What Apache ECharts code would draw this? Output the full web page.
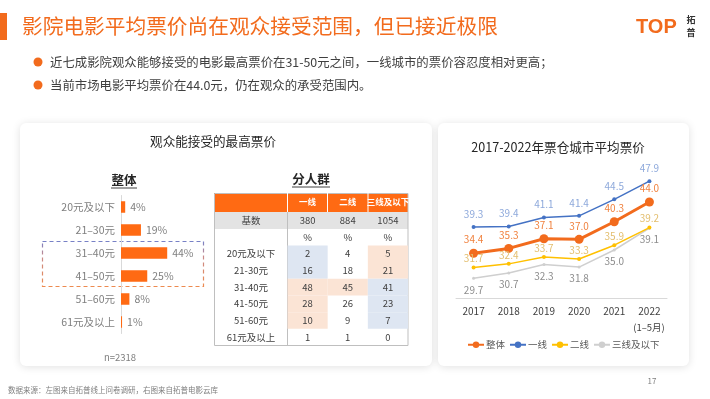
<!DOCTYPE html>
<html>
<head>
<meta charset="utf-8">
<script src="https://cdn.jsdelivr.net/npm/echarts@6/dist/echarts.min.js"></script>
<style>
  html, body { margin: 0; padding: 0; background: #fff; }
  #main { width: 710px; height: 399px; }
</style>
</head>
<body>
<div id="main"></div>
<script>
// 左图：整体可接受最高票价
const barBands = ['20元及以下', '21–30元', '31–40元', '41–50元', '51–60元', '61元及以上']
const overallShare = [4, 19, 44, 25, 8, 1]

// 分人群表格
const tableRows = ['基数', '', '20元及以下', '21-30元', '31-40元', '41-50元', '51-60元', '61元及以上']
const tiers = ['一线', '二线', '三线及以下']
const tierBase = [380, 884, 1054]
const tier1Share = [2, 16, 48, 28, 10, 1]
const tier2Share = [4, 18, 45, 26, 9, 1]
const tier3Share = [5, 21, 41, 23, 7, 0]

// 右图：票仓城市平均票价
const years = ['2017', '2018', '2019', '2020', '2021', '2022']
const priceAll = [34.4, 35.3, 37.1, 37.0, 40.3, 44.0]
const priceTier1 = [39.3, 39.4, 41.1, 41.4, 44.5, 47.9]
const priceTier2 = [31.7, 32.4, 33.7, 33.3, 35.9, 39.2]
const priceTier3 = [29.7, 30.7, 32.3, 31.8, 35.0, 39.1]

const ORANGE = '#F26B1D'
const FONT = '"Noto Sans CJK SC", "Noto Sans", sans-serif'
// 表格底色：b 蓝, o 橙
const shade = [
  ['b', 'b', 'o', 'o', 'o', ''],
  ['', '', 'o', '', '', ''],
  ['o', 'o', 'b', 'b', 'b', ''],
]
const shadeColor = { b: '#DEE6F2', o: '#FBE4D5', '': 'transparent' }

// 组装表格单元
const tierShare = [tier1Share, tier2Share, tier3Share]
const cells = []
tiers.forEach((t, c) => {
  cells.push({ value: [c, 0], text: String(tierBase[c]), bg: 'transparent' })
  cells.push({ value: [c, 1], text: '%', bg: 'transparent' })
  tierShare[c].forEach((v, i) => {
    cells.push({ value: [c, i + 2], text: String(v), bg: shadeColor[shade[c][i]] })
  })
})

function lineLabel(pos, color, distance) {
  return {
    show: true, position: pos, color: color, fontSize: 10, distance: distance,
    formatter: p => Number(p.value).toFixed(1),
  }
}

const chart = echarts.init(document.getElementById('main'), null, { renderer: 'canvas' })

const graphics = [
  // 标题
  { type: 'rect', shape: { x: 0, y: 13, width: 7, height: 27 }, style: { fill: ORANGE } },
  { type: 'text', x: 22, y: 26, style: { text: '影院电影平均票价尚在观众接受范围，但已接近极限', fill: ORANGE, font: '20.7px ' + FONT, verticalAlign: 'middle' } },
  // logo
  { type: 'text', x: 636, y: 27, style: { text: 'TOP', fill: ORANGE, font: 'bold 20px Arial, sans-serif', verticalAlign: 'middle' } },
  { type: 'text', x: 691, y: 20, style: { text: '拓', fill: '#333', font: 'bold 9px ' + FONT, align: 'center', verticalAlign: 'middle' } },
  { type: 'text', x: 691, y: 33, style: { text: '普', fill: '#333', font: 'bold 9px ' + FONT, align: 'center', verticalAlign: 'middle' } },
  // 要点
  { type: 'circle', shape: { cx: 38, cy: 62, r: 4.5 }, style: { fill: ORANGE } },
  { type: 'text', x: 50, y: 62, style: { text: '近七成影院观众能够接受的电影最高票价在31-50元之间，一线城市的票价容忍度相对更高；', fill: '#404040', font: '12.4px ' + FONT, verticalAlign: 'middle' } },
  { type: 'circle', shape: { cx: 38, cy: 85, r: 4.5 }, style: { fill: ORANGE } },
  { type: 'text', x: 50, y: 85, style: { text: '当前市场电影平均票价在44.0元，仍在观众的承受范围内。', fill: '#404040', font: '12.4px ' + FONT, verticalAlign: 'middle' } },
  // 卡片
  { type: 'rect', z: -10, shape: { x: 20, y: 123, width: 412, height: 243, r: 6 }, style: { fill: '#fff', shadowBlur: 8, shadowColor: 'rgba(0,0,0,0.12)', shadowOffsetY: 1 } },
  { type: 'rect', z: -10, shape: { x: 438, y: 123, width: 251, height: 243, r: 6 }, style: { fill: '#fff', shadowBlur: 8, shadowColor: 'rgba(0,0,0,0.12)', shadowOffsetY: 1 } },
  { type: 'text', x: 213, y: 141, style: { text: '观众能接受的最高票价', fill: '#262626', font: '12.6px ' + FONT, align: 'center', verticalAlign: 'middle' } },
  { type: 'text', x: 558, y: 147, style: { text: '2017-2022年票仓城市平均票价', fill: '#262626', font: '12.6px ' + FONT, align: 'center', verticalAlign: 'middle' } },
  // 小标题
  { type: 'text', x: 124, y: 180, style: { text: '整体', fill: '#262626', font: 'bold 12.5px ' + FONT, align: 'center', verticalAlign: 'middle' } },
  { type: 'line', shape: { x1: 111, y1: 188, x2: 137, y2: 188 }, style: { stroke: '#404040', lineWidth: 1 } },
  { type: 'text', x: 311, y: 179, style: { text: '分人群', fill: '#262626', font: 'bold 12.5px ' + FONT, align: 'center', verticalAlign: 'middle' } },
  { type: 'line', shape: { x1: 292, y1: 187, x2: 330, y2: 187 }, style: { stroke: '#404040', lineWidth: 1 } },
  // 虚线框
  { type: 'rect', shape: { x: 42.5, y: 241.5, width: 161, height: 45 }, style: { fill: 'none', lineWidth: 1.2, lineDash: [4, 3],
    stroke: new echarts.graphic.LinearGradient(0, 0, 0, 1, [{ offset: 0, color: '#6A7FD0' }, { offset: 0.35, color: '#C88A8A' }, { offset: 1, color: '#F08A4A' }]) } },
  { type: 'text', x: 120, y: 357, style: { text: 'n=2318', fill: '#7F7F7F', font: '9.5px ' + FONT, align: 'center', verticalAlign: 'middle' } },
  // 表格框架
  { type: 'rect', z: -5, shape: { x: 214, y: 193, width: 194, height: 19 }, style: { fill: '#FF6A13' } },
  { type: 'rect', z: -5, shape: { x: 214, y: 212, width: 194, height: 17 }, style: { fill: '#E3E3E3' } },
  { type: 'rect', z: -5, shape: { x: 214.5, y: 193.5, width: 193.5, height: 152 }, style: { fill: 'none', stroke: '#BFBFBF', lineWidth: 1 } },
  { type: 'line', z: -4, shape: { x1: 287.5, y1: 193, x2: 287.5, y2: 212 }, style: { stroke: '#fff', lineWidth: 1 } },
  { type: 'line', z: -4, shape: { x1: 327.5, y1: 193, x2: 327.5, y2: 212 }, style: { stroke: '#fff', lineWidth: 1 } },
  { type: 'line', z: -4, shape: { x1: 368, y1: 193, x2: 368, y2: 212 }, style: { stroke: '#fff', lineWidth: 1 } },
  { type: 'line', z: -4, shape: { x1: 287.5, y1: 212, x2: 287.5, y2: 345.5 }, style: { stroke: '#BFBFBF', lineWidth: 1 } },
  // 右图注释
  { type: 'text', x: 649, y: 327.5, style: { text: '(1–5月)', fill: '#404040', font: '9.5px ' + FONT, align: 'center', verticalAlign: 'middle' } },
  // 页脚
  { type: 'text', x: 8, y: 390, style: { text: '数据来源：左图来自拓普线上问卷调研，右图来自拓普电影云库', fill: '#7F7F7F', font: '7.5px ' + FONT, verticalAlign: 'middle' } },
  { type: 'text', x: 652, y: 381, style: { text: '17', fill: '#7F7F7F', font: '8px ' + FONT, align: 'center', verticalAlign: 'middle' } },
]

const option = {
  backgroundColor: '#fff',
  animation: false,
  textStyle: { fontFamily: FONT },
  graphic: { elements: graphics },
  legend: {
    data: ['整体', '一线', '二线', '三线及以下'],
    left: 462, top: 335,
    itemWidth: 16, itemHeight: 8, itemGap: 4,
    textStyle: { fontSize: 9.5, color: '#595959', padding: [0, 0, 0, -3] },
  },
  grid: [
    { left: 121, top: 195.5, width: 52.5, height: 138 },
    { left: 287.5, top: 212, width: 120.5, height: 133.5 },
    { left: 456, top: 170, width: 211, height: 128 },
  ],
  xAxis: [
    { gridIndex: 0, type: 'value', min: 0, max: 50, show: false },
    { gridIndex: 1, type: 'category', data: tiers, position: 'top', z: 5,
      axisLine: { show: false }, axisTick: { show: false }, splitLine: { show: false },
      axisLabel: { color: '#fff', fontWeight: 'bold', fontSize: 8.5, margin: 5.5, interval: 0 } },
    { gridIndex: 2, type: 'category', data: years, boundaryGap: true,
      axisLine: { lineStyle: { color: '#D9D9D9' } }, axisTick: { show: false },
      axisLabel: { color: '#404040', fontSize: 10, margin: 8 } },
  ],
  yAxis: [
    { gridIndex: 0, type: 'category', data: barBands, inverse: true,
      axisLine: { lineStyle: { color: '#D9D9D9' } }, axisTick: { show: false },
      axisLabel: { color: '#7F7F7F', fontSize: 10.5, margin: 6 } },
    { gridIndex: 1, type: 'category', data: tableRows, inverse: true,
      axisLine: { show: false }, axisTick: { show: false },
      axisLabel: { color: '#404040', fontSize: 9.5, align: 'center', margin: 36.5, interval: 0 } },
    { gridIndex: 2, type: 'value', min: 26, max: 50, show: false },
  ],
  series: [
    {
      type: 'bar', xAxisIndex: 0, yAxisIndex: 0, data: overallShare, barWidth: 11.5,
      itemStyle: { color: '#FF6A13' },
      label: { show: true, position: 'right', distance: 5, color: '#7F7F7F', fontSize: 10.5, formatter: '{c}%' },
    },
    {
      type: 'custom', xAxisIndex: 1, yAxisIndex: 1, data: cells,
      renderItem: function (params, api) {
        const cell = cells[params.dataIndex]
        const p = api.coord([api.value(0), api.value(1)])
        const s = api.size([1, 1])
        return {
          type: 'group',
          children: [
            { type: 'rect', shape: { x: p[0] - s[0] / 2, y: p[1] - s[1] / 2, width: s[0], height: s[1] }, style: { fill: cell.bg } },
            { type: 'text', x: p[0], y: p[1], style: { text: cell.text, fill: '#404040', font: '9.5px ' + FONT, align: 'center', verticalAlign: 'middle' } },
          ],
        }
      },
    },
    {
      name: '三线及以下', type: 'line', xAxisIndex: 2, yAxisIndex: 2, data: priceTier3,
      label: lineLabel('bottom', '#8C8C8C', 5),
      symbol: 'circle', symbolSize: 3, color: '#CFCFCF', lineStyle: { width: 1.5 },
    },
    {
      name: '二线', type: 'line', xAxisIndex: 2, yAxisIndex: 2, data: priceTier2,
      label: lineLabel('top', '#E3BE6E', 2),
      symbol: 'circle', symbolSize: 4, color: '#FFC000', lineStyle: { width: 1.5 },
    },
    {
      name: '整体', type: 'line', xAxisIndex: 2, yAxisIndex: 2, data: priceAll,
      label: lineLabel('top', '#F0823F', 4),
      symbol: 'circle', symbolSize: 9, color: ORANGE, lineStyle: { width: 3 },
    },
    {
      name: '一线', type: 'line', xAxisIndex: 2, yAxisIndex: 2, data: priceTier1,
      label: lineLabel('top', '#8EA9DB', 6),
      symbol: 'circle', symbolSize: 4, color: '#4472C4', lineStyle: { width: 1.5 },
    },
  ],
}

chart.setOption(option)
</script>
</body>
</html>
